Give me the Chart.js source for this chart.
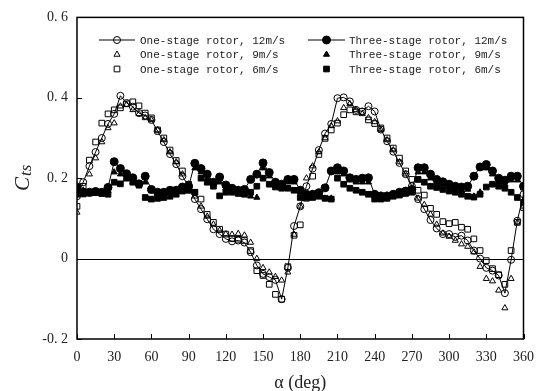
<!DOCTYPE html>
<html>
<head>
<meta charset="utf-8">
<script src="https://cdn.jsdelivr.net/npm/chart.js@4"></script>
<style>
	html, body { margin: 0; padding: 0; background: #fff; }
	#wrap { width: 544px; height: 391px; position: relative; }
</style>
</head>
<body>
<div id="wrap"><canvas id="ctsChart"></canvas></div>
<script>
// azimuth angle, deg
var angles = [0, 5, 10, 15, 20, 25, 30, 35, 40, 45, 50, 55, 60, 65, 70, 75, 80, 85, 90,
	95, 100, 105, 110, 115, 120, 125, 130, 135, 140, 145, 150, 155, 160, 165, 170, 175, 180,
	185, 190, 195, 200, 205, 210, 215, 220, 225, 230, 235, 240, 245, 250, 255, 260, 265, 270,
	275, 280, 285, 290, 295, 300, 305, 310, 315, 320, 325, 330, 335, 340, 345, 350, 355, 360];

var oneStage12 = [0.155, 0.19, 0.23, 0.265, 0.3, 0.335, 0.36, 0.405, 0.387, 0.378, 0.362, 0.356, 0.345,
	0.317, 0.29, 0.26, 0.235, 0.205, 0.18, 0.148, 0.123, 0.098, 0.073, 0.061, 0.049, 0.043, 0.045,
	0.04, 0.016, -0.017, -0.038, -0.046, -0.053, -0.101, -0.023, 0.081, 0.13, 0.18, 0.224, 0.27,
	0.311, 0.335, 0.399, 0.401, 0.391, 0.37, 0.366, 0.379, 0.366, 0.321, 0.292, 0.266, 0.238, 0.21,
	0.18, 0.148, 0.123, 0.096, 0.075, 0.061, 0.061, 0.054, 0.057, 0.045, 0.02, 0.0, -0.023, -0.03,
	-0.042, -0.086, -0.003, 0.094, 0.16];

var oneStage9 = [0.115, 0.17, 0.21, 0.25, 0.29, 0.325, 0.337, 0.379, 0.383, 0.37, 0.36, 0.35, 0.345,
	0.32, 0.295, 0.265, 0.24, 0.21, 0.185, 0.155, 0.13, 0.105, 0.085, 0.07, 0.061, 0.06, 0.062,
	0.058, 0.04, 0.0, -0.023, -0.034, -0.045, -0.054, -0.034, 0.06, 0.13, 0.2, 0.23, 0.265,
	0.3, 0.33, 0.342, 0.375, 0.385, 0.37, 0.36, 0.35, 0.34, 0.32, 0.295, 0.27, 0.24, 0.21,
	0.175, 0.15, 0.134, 0.11, 0.085, 0.063, 0.055, 0.045, 0.036, 0.03, 0.016, -0.02, -0.05, -0.056,
	-0.079, -0.123, -0.05, 0.09, 0.13];

var oneStage6 = [0.13, 0.18, 0.245, 0.29, 0.337, 0.36, 0.37, 0.375, 0.385, 0.39, 0.38, 0.362, 0.35,
	0.32, 0.3, 0.27, 0.244, 0.218, 0.185, 0.165, 0.148, 0.11, 0.09, 0.073, 0.061, 0.05, 0.048,
	0.045, 0.02, -0.03, -0.042, -0.064, -0.089, -0.101, -0.02, 0.058, 0.084, 0.15, 0.205, 0.259,
	0.299, 0.32, 0.337, 0.358, 0.37, 0.365, 0.366, 0.345, 0.336, 0.325, 0.3, 0.275, 0.25, 0.218,
	0.197, 0.17, 0.158, 0.125, 0.11, 0.092, 0.087, 0.09, 0.078, 0.073, 0.049, 0.02, -0.005, -0.025,
	-0.04, -0.064, 0.02, 0.09, 0.127];

var threeStage12 = [0.178, 0.165, 0.165, 0.167, 0.165, 0.177, 0.241, 0.224, 0.211, 0.201, 0.186, 0.205, 0.172,
	0.165, 0.165, 0.17, 0.17, 0.178, 0.18, 0.237, 0.224, 0.21, 0.19, 0.203, 0.183, 0.175, 0.17,
	0.172, 0.197, 0.21, 0.238, 0.214, 0.19, 0.185, 0.197, 0.197, 0.17, 0.16, 0.16, 0.164,
	0.176, 0.218, 0.226, 0.218, 0.201, 0.197, 0.2, 0.201, 0.16, 0.156, 0.156, 0.16, 0.165, 0.168,
	0.172, 0.226, 0.226, 0.21, 0.197, 0.191, 0.185, 0.18, 0.178, 0.18, 0.205, 0.228, 0.234, 0.218,
	0.2, 0.195, 0.205, 0.205, 0.18];

var threeStage9 = [0.16, 0.158, 0.16, 0.162, 0.16, 0.168, 0.215, 0.21, 0.2, 0.19, 0.18, 0.19, 0.168,
	0.162, 0.16, 0.165, 0.165, 0.17, 0.168, 0.225, 0.215, 0.2, 0.185, 0.19, 0.175, 0.168, 0.162,
	0.16, 0.155, 0.152, 0.225, 0.205, 0.185, 0.18, 0.19, 0.19, 0.165, 0.158, 0.155, 0.155,
	0.15, 0.15, 0.215, 0.21, 0.195, 0.19, 0.19, 0.19, 0.155, 0.15, 0.15, 0.155, 0.16, 0.162,
	0.168, 0.215, 0.215, 0.2, 0.19, 0.185, 0.18, 0.175, 0.17, 0.172, 0.155, 0.165, 0.225, 0.21,
	0.19, 0.185, 0.195, 0.195, 0.175];

var threeStage6 = [0.16, 0.165, 0.165, 0.165, 0.162, 0.16, 0.19, 0.186, 0.2, 0.19, 0.186, 0.152, 0.148,
	0.15, 0.152, 0.155, 0.16, 0.168, 0.17, 0.165, 0.2, 0.19, 0.18, 0.156, 0.165, 0.165, 0.162,
	0.16, 0.165, 0.18, 0.2, 0.185, 0.178, 0.175, 0.175, 0.17, 0.152, 0.152, 0.152, 0.155,
	0.15, 0.148, 0.2, 0.185, 0.175, 0.17, 0.165, 0.16, 0.148, 0.148, 0.15, 0.155, 0.158, 0.162,
	0.165, 0.197, 0.19, 0.18, 0.177, 0.172, 0.168, 0.165, 0.16, 0.155, 0.153, 0.16, 0.178, 0.185,
	0.18, 0.175, 0.165, 0.152, 0.14];

var xTicks = [0, 30, 60, 90, 120, 150, 180, 210, 240, 270, 300, 330, 360];
var yTicks = [-0.2, 0, 0.2, 0.4, 0.6];

function pts(vals) {
	return angles.map(function (a, i) { return { x: a, y: vals[i] }; });
}

function series(label, vals, style, radius, filled, line) {
	return {
		label: label,
		data: pts(vals),
		showLine: line,
		borderColor: '#000',
		borderWidth: 1,
		pointStyle: style,
		pointRadius: radius,
		pointBorderColor: '#000',
		pointBackgroundColor: filled ? '#000' : 'rgba(255,255,255,0)',
		pointBorderWidth: 1
	};
}

var datasets = [
	series('One-stage rotor, 12m/s', oneStage12, 'circle', 3.5, false, true),
	series('One-stage rotor, 9m/s', oneStage9, 'triangle', 3.5, false, false),
	series('One-stage rotor, 6m/s', oneStage6, 'rect', 4, false, false),
	series('Three-stage rotor, 12m/s', threeStage12, 'circle', 4, true, true),
	series('Three-stage rotor, 9m/s', threeStage9, 'triangle', 3.5, true, false),
	series('Three-stage rotor, 6m/s', threeStage6, 'rect', 4, true, false)
];

// frame, inward ticks, zero line, axis titles and the two-column key
var decor = {
	id: 'decor',
	beforeDatasetsDraw: function (chart) {
		var ctx = chart.ctx, a = chart.chartArea, y = chart.scales.y;
		var y0 = Math.round(y.getPixelForValue(0)) + 0.5;
		ctx.save();
		ctx.strokeStyle = '#000';
		ctx.lineWidth = 1;
		ctx.beginPath();
		ctx.moveTo(a.left, y0);
		ctx.lineTo(a.right, y0);
		ctx.stroke();
		ctx.restore();
	},
	afterDraw: function (chart) {
		var ctx = chart.ctx, a = chart.chartArea;
		var xs = chart.scales.x, ys = chart.scales.y;
		ctx.save();
		ctx.strokeStyle = '#000';
		ctx.lineWidth = 1.5;
		ctx.strokeRect(a.left, a.top, a.right - a.left, a.bottom - a.top);
		ctx.lineWidth = 1;
		ctx.beginPath();
		xTicks.forEach(function (t) {
			var px = Math.round(xs.getPixelForValue(t)) + 0.5;
			ctx.moveTo(px, a.bottom);
			ctx.lineTo(px, a.bottom - 5);
		});
		yTicks.forEach(function (t) {
			var py = Math.round(ys.getPixelForValue(t)) + 0.5;
			ctx.moveTo(a.left, py);
			ctx.lineTo(a.left + 5, py);
		});
		ctx.stroke();

		// axis titles
		ctx.fillStyle = '#222';
		ctx.textBaseline = 'alphabetic';
		ctx.textAlign = 'center';
		ctx.font = '18px "Liberation Serif"';
		ctx.fillText('α (deg)', (a.left + a.right) / 2, 388);

		ctx.save();
		ctx.translate(29, 173);
		ctx.rotate(-Math.PI / 2);
		ctx.textAlign = 'left';
		ctx.font = 'italic 21px "Liberation Serif"';
		var cw = ctx.measureText('C').width;
		ctx.fillText('C', -18, 0);
		ctx.font = 'italic 17px "Liberation Serif"';
		ctx.fillText('ts', -18 + cw + 1, 2);
		ctx.restore();

		// key
		var cols = [{ lx: 99, rx: 135, tx: 140 }, { lx: 308, rx: 345, tx: 349 }];
		var rows = [40, 54.5, 69];
		ctx.font = '11px "Liberation Mono"';
		ctx.textAlign = 'left';
		ctx.textBaseline = 'middle';
		chart.data.datasets.forEach(function (ds, i) {
			var c = cols[Math.floor(i / 3)], ry = rows[i % 3];
			var mx = (c.lx + c.rx) / 2;
			ctx.strokeStyle = '#000';
			ctx.lineWidth = 1;
			if (ds.showLine) {
				ctx.beginPath();
				ctx.moveTo(c.lx, ry);
				ctx.lineTo(c.rx, ry);
				ctx.stroke();
			}
			ctx.fillStyle = ds.pointBackgroundColor;
			Chart.helpers.drawPoint(ctx, {
				pointStyle: ds.pointStyle,
				radius: ds.pointRadius,
				borderWidth: 1,
				rotation: 0
			}, mx, ry);
			ctx.fillStyle = '#222';
			ctx.fillText(ds.label, c.tx, ry + 1);
		});
		ctx.restore();
	}
};

new Chart(document.getElementById('ctsChart'), {
	type: 'scatter',
	data: { datasets: datasets },
	options: {
		responsive: true,
		maintainAspectRatio: false,
		animation: false,
		layout: { padding: { top: 15, right: 16, left: 0, bottom: 0 } },
		plugins: {
			legend: { display: false },
			tooltip: { enabled: false }
		},
		scales: {
			x: {
				type: 'linear',
				min: 0,
				max: 360,
				afterFit: function (s) { s.height = 52; },
				afterBuildTicks: function (s) {
					s.ticks = xTicks.map(function (v) { return { value: v }; });
				},
				grid: { display: false, drawTicks: false },
				border: { display: false },
				ticks: {
					padding: 10,
					color: '#222',
					font: { family: 'Liberation Serif', size: 14 }
				}
			},
			y: {
				min: -0.2,
				max: 0.6,
				afterFit: function (s) { s.width = 77; },
				afterBuildTicks: function (s) {
					s.ticks = yTicks.map(function (v) { return { value: v }; });
				},
				grid: { display: false, drawTicks: false },
				border: { display: false },
				ticks: {
					padding: 9,
					color: '#222',
					font: { family: 'Liberation Serif', size: 14 },
					callback: function (v) {
						var r = Math.round(v * 10) / 10;
						if (r === 0) return '0';
						return r.toFixed(1).replace('.', '. ');
					}
				}
			}
		}
	},
	plugins: [decor]
});
</script>
</body>
</html>
